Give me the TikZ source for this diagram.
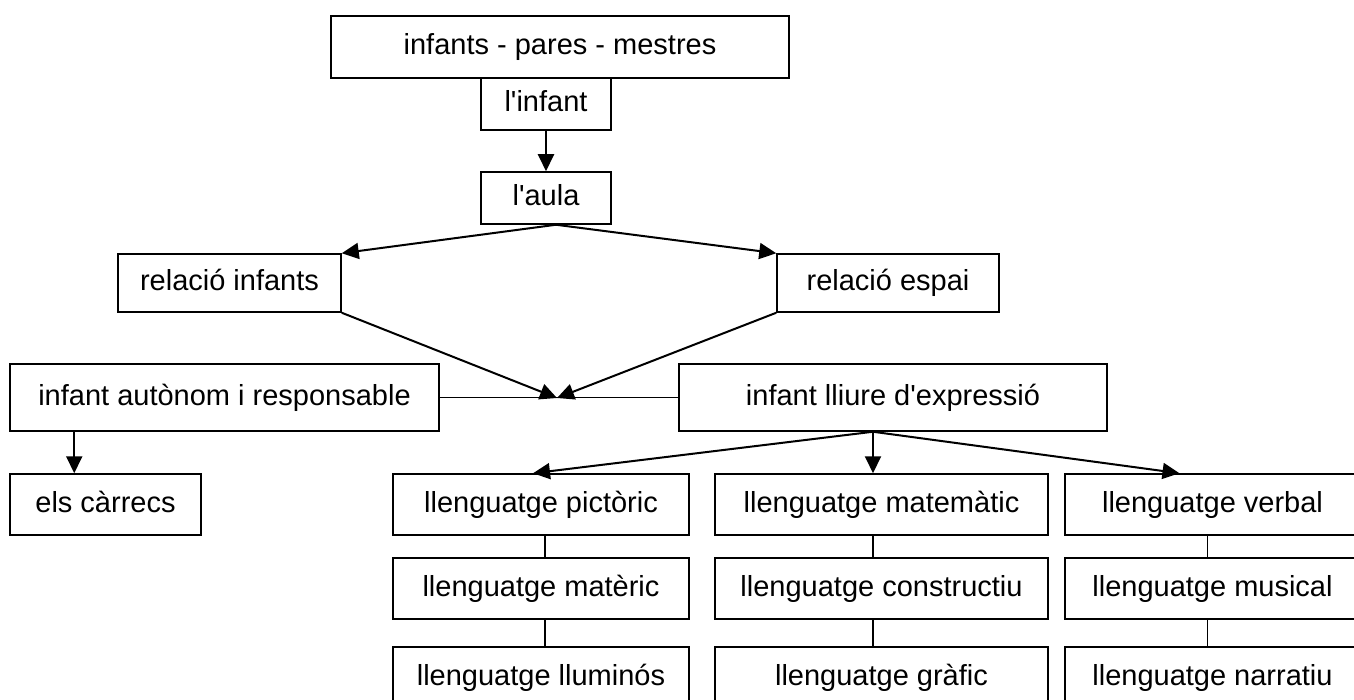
\documentclass[tikz,border=0pt]{standalone}
\usepackage{fontspec}
\setmainfont{Liberation Sans}
\usetikzlibrary{arrows.meta,calc,positioning}
\tikzset{
        block/.style = {draw, rectangle, line width=0.75pt, inner sep=0pt,
            text height=10.5pt, text depth=2.5pt,
            font=\fontsize{14.5}{17}\selectfont},
        row/.style = {block, minimum height=30.5pt},
        arrow/.style={draw, line width=1pt, -{Triangle[length=8.5pt,width=8pt]}},
        link/.style={draw, line width=0.6pt},
    }

\begin{document}
\begin{tikzpicture}[x=0.5pt,y=-0.5pt]
    \useasboundingbox (0,0) rectangle (1354,700);

    % top of the tree
    \node[block, minimum width=229pt, minimum height=31pt] (top) at (560,47) {infants - pares - mestres};
    \node[block, minimum width=65pt, minimum height=26pt] (infant) at (546,104) {l\textquotesingle infant};
    \node[block, minimum width=65pt, minimum height=26pt] (aula) at (546,198) {l\textquotesingle aula};

    \node[block, minimum width=111.5pt, minimum height=29pt] (relinf) at (229.5,283) {relació infants};
    \node[block, minimum width=111pt, minimum height=29pt] (relesp) at (888,283) {relació espai};

    \node[block, minimum width=214.5pt, minimum height=33.5pt] (autonom) at (224.5,397.5) {infant autònom i responsable};
    \node[block, minimum width=214pt, minimum height=33.5pt] (lliure) at (893,397.5) {infant lliure d\textquotesingle expressió};

    \node[row, minimum width=95.5pt] (carrecs) at (105.5,504.5) {els càrrecs};

    % llenguatges
    \node[row, minimum width=148pt] (pictoric) at (541,504.5) {llenguatge pictòric};
    \node[row, minimum width=148pt] (materic) at (541,588.5) {llenguatge matèric};
    \node[row, minimum width=148pt] (lluminos) at (541,677.5) {llenguatge lluminós};

    \node[row, minimum width=166.5pt] (matematic) at (881.5,504.5) {llenguatge matemàtic};
    \node[row, minimum width=166.5pt] (constructiu) at (881.5,588.5) {llenguatge constructiu};
    \node[row, minimum width=166.5pt] (grafic) at (881.5,677.5) {llenguatge gràfic};

    \node[row, minimum width=147.5pt] (verbal) at (1212.5,504.5) {llenguatge verbal};
    \node[row, minimum width=147.5pt] (musical) at (1212.5,588.5) {llenguatge musical};
    \node[row, minimum width=147.5pt] (narratiu) at (1212.5,677.5) {llenguatge narratiu};

    \coordinate (fork) at ($(aula.south)+(10,0)$);
    \coordinate (meet) at (557,398);
    \coordinate (fork2) at ($(lliure.south)+(-20,0)$);
    \coordinate (drop) at ($(autonom.south west)+(65,0)$);
    \coordinate (colp) at ($(pictoric.south)+(4,0)$);
    \coordinate (colv) at ($(verbal.south)+(-5,0)$);

    \draw[arrow] (infant) -- (aula);
    \draw[arrow] (fork) -- (relinf.north east);
    \draw[arrow] (fork) -- (relesp.north west);

    \draw[link] (autonom) -- (lliure);
    \draw[arrow] (relinf.south east) -- (meet);
    \draw[arrow] (relesp.south west) -- (meet);

    \draw[arrow] (drop) -- (drop |- carrecs.north);

    \draw[arrow] (fork2) -- ($(pictoric.north)+(-8,0)$);
    \draw[arrow] (fork2) -- (fork2 |- matematic.north);
    \draw[arrow] (fork2) -- ($(verbal.north)+(-33,0)$);

    \draw[link] (colp) -- (colp |- materic.north);
    \draw[link] (materic.south -| colp) -- (colp |- lluminos.north);
    \draw[link] (matematic.south -| fork2) -- (constructiu.north -| fork2);
    \draw[link] (constructiu.south -| fork2) -- (grafic.north -| fork2);
    \draw[link] (colv) -- (colv |- musical.north);
    \draw[link] (musical.south -| colv) -- (colv |- narratiu.north);
\end{tikzpicture}
\end{document}
